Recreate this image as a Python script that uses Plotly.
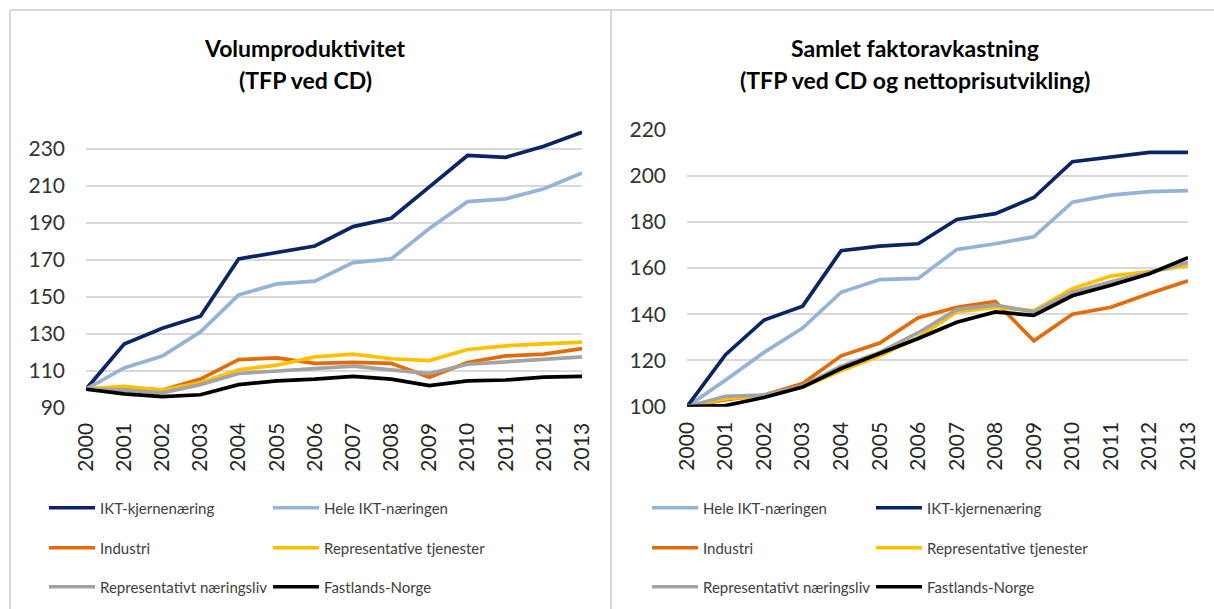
import plotly.graph_objects as go

# ---------------- data ----------------
years = list(range(2000, 2014))
year_labels = [str(y) for y in years]

# Left panel: Volumproduktivitet (TFP ved CD)
vol_ikt_kjerne = [100, 124.5, 133, 139.5, 170.5, 174, 177.5, 188, 192.5, 209.5, 226.5, 225.5, 231.5, 239]
vol_hele_ikt = [100, 111.5, 118, 131, 151, 157, 158.5, 168.5, 170.5, 187, 201.5, 203, 208.5, 217]
vol_industri = [100, 101, 99.5, 105.5, 116, 117, 114, 114.5, 114, 106.5, 114.5, 118, 119, 122]
vol_rep_tjen = [100, 101.5, 99.5, 103.5, 110.5, 113, 117.5, 119, 116.5, 115.5, 121.5, 123.5, 124.5, 125.5]
vol_rep_naer = [100, 99.5, 98, 102.5, 108.5, 110, 111.5, 112.5, 110.5, 108.5, 113.5, 115, 116, 117.5]
vol_fastland = [100, 97.5, 96, 97, 102.5, 104.5, 105.5, 107, 105.5, 102, 104.5, 105, 106.5, 107]

# Right panel: Samlet faktoravkastning (TFP ved CD og nettoprisutvikling)
sf_hele_ikt = [100, 111.5, 123.5, 134, 149.5, 155, 155.5, 168, 170.5, 173.5, 188.5, 191.5, 193, 193.5]
sf_ikt_kjerne = [100, 122.5, 137.5, 143.5, 167.5, 169.5, 170.5, 181, 183.5, 190.5, 206, 208, 210, 210]
sf_industri = [100, 103, 105, 110, 122, 127.5, 138.5, 143, 145.5, 128.5, 140, 143, 149, 154.5]
sf_rep_tjen = [100, 103.5, 104.5, 108.5, 115.5, 122, 130, 141, 143, 141.5, 151, 156.5, 158.5, 161]
sf_rep_naer = [100, 104.5, 105, 109, 117.5, 123.5, 132, 142, 144, 141, 149.5, 154, 158, 162.5]
sf_fastland = [100, 100.5, 104, 108.5, 116.5, 123, 129.5, 136.5, 141, 139.5, 148, 152.5, 157.5, 164.5]

left_titles = ["Volumproduktivitet", "(TFP ved CD)"]
right_titles = ["Samlet faktoravkastning", "(TFP ved CD og nettoprisutvikling)"]

# ---------------- styling ----------------
W, H = 1214, 609
FONT = "Lato"
C_NAVY = "#0B2463"
C_LBLUE = "#95B3D7"
C_ORANGE = "#E36C0A"
C_YELLOW = "#FFC000"
C_GRAY = "#A3A3A3"
C_BLACK = "#000000"
LW = 3.7


def fx(px):
    return px / W


def fy(py):
    return 1 - py / H


fig = go.Figure()

left_series = [
    ("IKT-kjernenæring", vol_ikt_kjerne, C_NAVY, "legend"),
    ("Hele IKT-næringen", vol_hele_ikt, C_LBLUE, "legend"),
    ("Industri", vol_industri, C_ORANGE, "legend2"),
    ("Representative tjenester", vol_rep_tjen, C_YELLOW, "legend2"),
    ("Representativt næringsliv", vol_rep_naer, C_GRAY, "legend3"),
    ("Fastlands-Norge", vol_fastland, C_BLACK, "legend3"),
]
right_series = [
    ("Hele IKT-næringen", sf_hele_ikt, C_LBLUE, "legend4"),
    ("IKT-kjernenæring", sf_ikt_kjerne, C_NAVY, "legend4"),
    ("Industri", sf_industri, C_ORANGE, "legend5"),
    ("Representative tjenester", sf_rep_tjen, C_YELLOW, "legend5"),
    ("Representativt næringsliv", sf_rep_naer, C_GRAY, "legend6"),
    ("Fastlands-Norge", sf_fastland, C_BLACK, "legend6"),
]

for name, vals, col, lg in left_series:
    fig.add_trace(go.Scatter(x=years, y=vals, name=name, mode="lines",
                             line=dict(color=col, width=LW),
                             xaxis="x", yaxis="y", legend=lg))
for name, vals, col, lg in right_series:
    fig.add_trace(go.Scatter(x=years, y=vals, name=name, mode="lines",
                             line=dict(color=col, width=LW),
                             xaxis="x2", yaxis="y2", legend=lg))

xcommon = dict(range=[2000, 2013], tickmode="array", tickvals=years, ticktext=year_labels,
               tickangle=-90, showgrid=False, zeroline=False, showline=False, ticks="",
               ticklabelstandoff=10, automargin=False,
               tickfont=dict(family=FONT, size=21, color="#262626"))
ycommon = dict(dtick=20, showgrid=True, gridcolor="#d9d9d9", gridwidth=1.5,
               zeroline=False, showline=False, ticks="", ticklabelstandoff=20, automargin=False,
               tickfont=dict(family=FONT, size=21, color="#333333"))

legend_common = dict(orientation="h", entrywidth=163, entrywidthmode="pixels",
                     itemwidth=46,
                     xanchor="left", yanchor="middle", bgcolor="rgba(0,0,0,0)",
                     font=dict(family=FONT, size=15, color="#404040"),
                     itemclick=False, itemdoubleclick=False, tracegroupgap=0)

rows_y = [508, 548, 587]
lx_left = 44
lx_right = 647

layout = dict(
    width=W, height=H, autosize=False,
    margin=dict(l=0, r=0, t=0, b=0, pad=0, autoexpand=False),
    paper_bgcolor="white", plot_bgcolor="white",
    font=dict(family=FONT),
    xaxis=dict(domain=[fx(86), fx(582)], anchor="y", **xcommon),
    yaxis=dict(domain=[fy(407.7), fy(130.5)], range=[90, 240], tick0=90, anchor="x", **ycommon),
    xaxis2=dict(domain=[fx(687), fx(1188)], anchor="y2", **xcommon),
    yaxis2=dict(domain=[fy(406.7), fy(129.3)], range=[100, 220], tick0=100, anchor="x2", **ycommon),
    legend=dict(x=fx(lx_left), y=fy(rows_y[0]), **legend_common),
    legend2=dict(x=fx(lx_left), y=fy(rows_y[1]), **legend_common),
    legend3=dict(x=fx(lx_left), y=fy(rows_y[2]), **legend_common),
    legend4=dict(x=fx(lx_right), y=fy(rows_y[0]), **legend_common),
    legend5=dict(x=fx(lx_right), y=fy(rows_y[1]), **legend_common),
    legend6=dict(x=fx(lx_right), y=fy(rows_y[2]), **legend_common),
    showlegend=True,
)
fig.update_layout(**layout)

# titles
title_font = dict(family=FONT, size=23, color="#000000")
for cx, lines in ((305, left_titles), (915, right_titles)):
    for i, t in enumerate(lines):
        fig.add_annotation(text="<b>" + t + "</b>", x=fx(cx), y=fy(48 + 32 * i),
                           xref="paper", yref="paper", xanchor="center", yanchor="middle",
                           showarrow=False, font=title_font)

# chart-area borders
border = dict(color="#d9d9d9", width=2)
fig.add_shape(type="line", xref="paper", yref="paper", x0=fx(10), x1=1, y0=fy(10), y1=fy(10), line=border)
fig.add_shape(type="line", xref="paper", yref="paper", x0=fx(10), x1=fx(10), y0=fy(10), y1=0, line=border)
fig.add_shape(type="line", xref="paper", yref="paper", x0=fx(611), x1=fx(611), y0=fy(10), y1=0, line=border)

fig.write_html("out.html", config={"displayModeBar": False},
               post_script="document.body.style.margin='0';document.body.style.overflow='hidden';")
